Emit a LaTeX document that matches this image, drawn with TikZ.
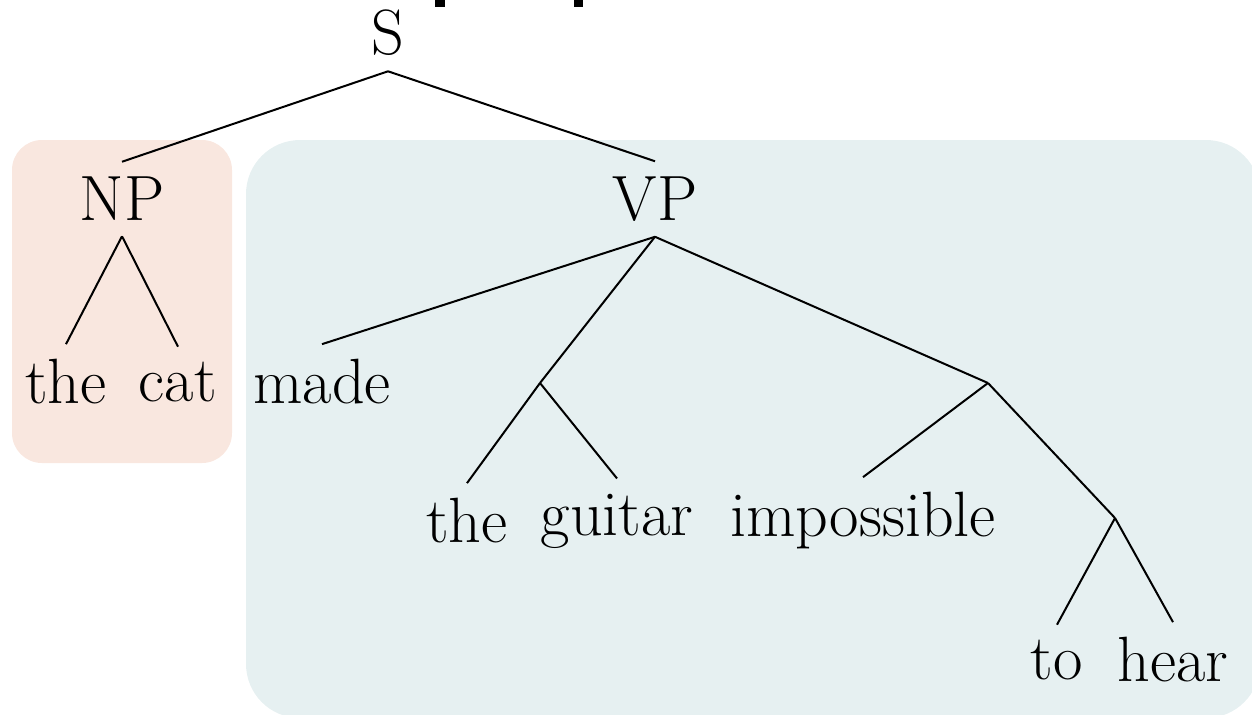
\documentclass[tikz,border=0pt]{standalone}
\usepackage{tikz}
\definecolor{npback}{HTML}{F9E7DF}
\definecolor{vpback}{HTML}{E6F0F1}
\tikzset{word/.style={font=\fontsize{32}{34}\selectfont, inner sep=7.5pt},
         branch/.style={line width=1pt}}

\begin{document}
\begin{tikzpicture}[x=0.5pt,y=-0.5pt]
    % frame and backgrounds
    \clip (0,0) rectangle (1252,714);
    \fill (435,0) rectangle (445,7);
    \fill (574,0) rectangle (583,7);
    \fill[npback, rounded corners=15pt] (12,140) rectangle (232,463);
    \fill[vpback, rounded corners=27pt] (246,140) rectangle (1260,718);

    % labels
    \node[word] (s)  at (388,33)  {S};
    \node[word] (np) at (122,199) {NP};
    \node[word] (vp) at (655,199) {VP};
    \node[word] (the)    at (66,382)   {the};
    \node[word] (cat)    at (178,382)  {cat};
    \node[word] (made)   at (322,382)  {made};
    \node[word] (theb)   at (467,521)  {the};
    \node[word] (guitar) at (617,521)  {guitar};
    \node[word] (imposs) at (863,521)  {impossible};
    \node[word] (to)     at (1057,660) {to};
    \node[word] (hear)   at (1173,660) {hear};

    % inner points
    \coordinate (obj) at (540,383);
    \coordinate (comp) at (988,383);
    \coordinate (inf) at (1115,518);

    % branches
    \draw[branch] (s.south) -- (np.north);
    \draw[branch] (s.south) -- (vp.north);
    \draw[branch] (np.south) -- (the.north);
    \draw[branch] (np.south) -- (cat.north);
    \draw[branch] (vp.south) -- (made.north);
    \draw[branch] (vp.south) -- (obj);
    \draw[branch] (vp.south) -- (comp);
    \draw[branch] (obj) -- (theb.north);
    \draw[branch] (obj) -- (guitar.north);
    \draw[branch] (comp) -- (imposs.north);
    \draw[branch] (comp) -- (inf);
    \draw[branch] (inf) -- (to.north);
    \draw[branch] (inf) -- (hear.north);
\end{tikzpicture}
\end{document}
